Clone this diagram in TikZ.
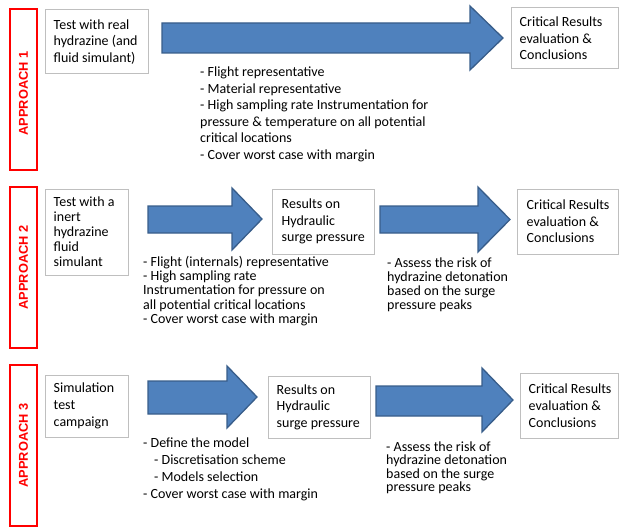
\documentclass[tikz,border=0pt]{standalone}
\usepackage{fontspec}
\setmainfont{Carlito}
\newfontfamily\labelfont{Liberation Sans}
\definecolor{arrowfill}{HTML}{4F81BD}
\definecolor{arrowline}{HTML}{385D8A}
\definecolor{boxline}{HTML}{BFBFBF}
\newcommand{\firststrut}{\rule{0pt}{10pt}}
\begin{document}
\begin{tikzpicture}[x=1pt,y=-1pt,
  graybox/.style={draw=boxline, line width=1pt, inner sep=0pt, fill=white},
  boxtext/.style={align=left, inner sep=0pt, anchor=west, font=\fontsize{14}{16.5}\selectfont},
  listtext/.style={align=left, inner sep=0pt, anchor=north west},
  approachbox/.style={draw=red, line width=2pt, inner sep=0pt, minimum width=27pt, minimum height=161pt},
  approachlabel/.style={text=red, rotate=90, inner sep=0pt, font=\labelfont\bfseries\fontsize{12.8}{14}\selectfont},
  blockarrow/.style={fill=arrowfill, draw=arrowline, line width=1.3pt, line join=miter}]
\useasboundingbox (0,0) rectangle (619,527);

% ---------- APPROACH 1 ----------
\node[approachbox] (a1) at (23.5,89.5) {};
\node[approachlabel] (a1l) at ([yshift=-4pt]a1.center) {APPROACH 1};
\node[graybox, minimum width=103pt, minimum height=64pt] (b11) at (96.5,42) {};
\node[boxtext] (t11) at ([xshift=9pt]b11.west) {Test with real\\hydrazine (and\\fluid simulant)};
\draw[blockarrow] (162,23) -- (470,23) -- (470,6) -- (503,38) -- (470,70) -- (470,53) -- (162,53) -- cycle;
\node[graybox, minimum width=107.5pt, minimum height=61pt] (b12) at (564.75,38.5) {};
\node[boxtext] (t12) at ([xshift=9pt]b12.west) {Critical Results\\evaluation \&\\Conclusions};
\node[listtext, font=\fontsize{14}{16.5}\selectfont] (l11) at (200,66.5)
 {\firststrut- Flight representative\\- Material representative\\- High sampling rate Instrumentation for\\pressure \& temperature on all potential\\critical locations\\- Cover worst case with margin};

% ---------- APPROACH 2 ----------
\node[approachbox] (a2) at (23.5,267.5) {};
\node[approachlabel] (a2l) at (a2.center) {APPROACH 2};
\node[graybox, minimum width=83pt, minimum height=86pt] (b21) at (86.5,232) {};
\node[boxtext, font=\fontsize{14}{15}\selectfont] (t21) at ([xshift=9pt]b21.west) {Test with a\\inert\\hydrazine\\fluid\\simulant};
\draw[blockarrow] (148,206) -- (232,206) -- (232,188) -- (262,219) -- (232,250) -- (232,233) -- (148,233) -- cycle;
\node[graybox, minimum width=102pt, minimum height=65pt] (b22) at (323,221.5) {};
\node[boxtext] (t22) at ([xshift=10pt]b22.west) {Results on\\Hydraulic\\surge pressure};
\draw[blockarrow] (380,206) -- (478,206) -- (478,187) -- (510,219.5) -- (478,252) -- (478,233) -- (380,233) -- cycle;
\node[graybox, minimum width=101.5pt, minimum height=65pt] (b23) at (567.75,221.5) {};
\node[boxtext] (t23) at ([xshift=10pt]b23.west) {Critical Results\\evaluation \&\\Conclusions};
\node[listtext, font=\fontsize{14}{14.2}\selectfont] (l21) at (143,256)
 {\firststrut- Flight (internals) representative\\- High sampling rate\\Instrumentation for pressure on\\all potential critical locations\\- Cover worst case with margin};
\node[listtext, font=\fontsize{14}{14}\selectfont] (l22) at (387,257)
 {\firststrut- Assess the risk of\\hydrazine detonation\\based on the surge\\pressure peaks};

% ---------- APPROACH 3 ----------
\node[approachbox] (a3) at (23.5,445.5) {};
\node[approachlabel] (a3l) at (a3.center) {APPROACH 3};
\node[graybox, minimum width=83pt, minimum height=62pt] (b31) at (86.5,406) {};
\node[boxtext, font=\fontsize{14}{17}\selectfont] (t31) at ([xshift=9pt]b31.west) {Simulation\\test\\campaign};
\draw[blockarrow] (148,381) -- (227,381) -- (227,366) -- (257,397) -- (227,428) -- (227,414) -- (148,414) -- cycle;
\node[graybox, minimum width=102pt, minimum height=62pt] (b32) at (319,407) {};
\node[boxtext] (t32) at ([xshift=9pt]b32.west) {Results on\\Hydraulic\\surge pressure};
\draw[blockarrow] (376,386) -- (482,386) -- (482,368) -- (513,400) -- (482,432) -- (482,416) -- (376,416) -- cycle;
\node[graybox, minimum width=98.5pt, minimum height=65pt] (b33) at (569.25,405.5) {};
\node[boxtext, font=\fontsize{14}{17}\selectfont] (t33) at ([xshift=9pt]b33.west) {Critical Results\\evaluation \&\\Conclusions};
\node[listtext, font=\fontsize{14}{17}\selectfont] (l31) at (143,437)
 {\firststrut- Define the model\\\hspace*{11pt}- Discretisation scheme\\\hspace*{11pt}- Models selection\\- Cover worst case with margin};
\node[listtext, font=\fontsize{14}{13.5}\selectfont] (l32) at (386,441)
 {\firststrut- Assess the risk of\\hydrazine detonation\\based on the surge\\pressure peaks};
\end{tikzpicture}
\end{document}
